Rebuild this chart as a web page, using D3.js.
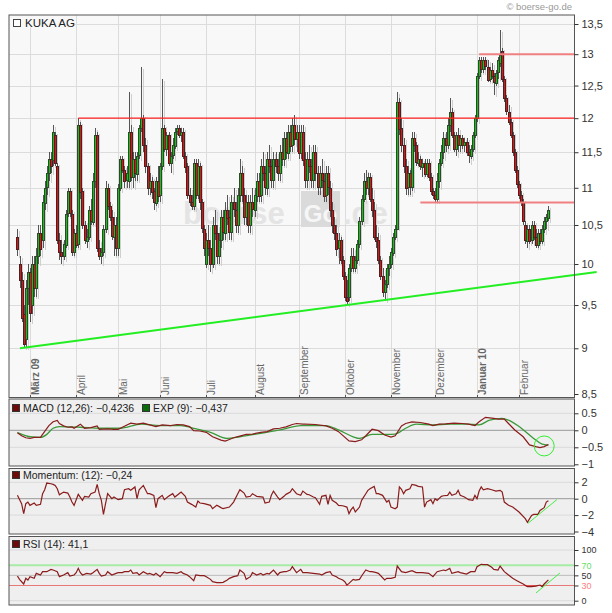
<!DOCTYPE html>
<html><head><meta charset="utf-8">
<script src="https://cdn.jsdelivr.net/npm/d3@7"></script>
<style>body{margin:0;background:#fff}svg{display:block;font-family:"Liberation Sans",Arial,sans-serif}</style>
</head><body><svg id="c" width="612" height="613"></svg>
<script>
const title = "KUKA AG";
const copyright = "© boerse-go.de";
const monthLabels = ["März 09","April","Mai","Juni","Juli","August","September","Oktober","November","Dezember","Januar 10","Februar"];
const monthIdx = [6,28,48,68,90,113,134,156,178,199,219,239];
const monthBold = [1,0,0,0,0,0,0,0,0,0,1,0];
const priceTicks = [8.5,9,9.5,10,10.5,11,11.5,12,12.5,13,13.5];
const macdTicks = [0.5,0,-0.5,-1];
const momTicks = [2,0,-2,-4];
const rsiTicks = [100,70,50,30,0];

const open = [10.35,10.0,9.8,9.4,9.1,9.7,9.9,9.5,10.0,9.7,
10.1,10.4,10.3,10.8,11.0,11.2,11.4,11.4,11.75,11.3,
10.3,10.15,10.1,10.25,10.65,10.95,10.65,10.15,10.4,10.25,
11.9,10.95,10.5,10.3,10.35,10.7,10.55,11.1,11.75,10.2,
10.1,10.15,10.45,11.0,10.75,10.6,10.35,10.5,10.2,11.0,
11.4,11.25,11.1,11.1,11.8,11.15,11.4,11.2,11.45,11.85,
12.0,11.6,11.3,11.0,11.1,10.95,10.8,11.1,10.9,11.3,
11.85,11.55,11.75,11.35,11.45,11.6,11.8,11.85,11.75,11.8,
11.45,11.3,10.9,10.8,10.75,11.35,10.9,11.3,10.8,10.45,
10.0,10.3,10.2,10.0,10.5,10.4,10.1,10.3,10.6,10.4,
10.7,10.6,10.4,10.8,10.7,10.5,10.9,11.2,10.9,10.6,
10.8,10.5,10.8,10.7,10.9,11.1,10.9,11.3,11.2,11.0,
11.4,11.3,11.1,11.4,11.3,11.2,11.5,11.4,11.7,11.5,
11.8,11.6,11.9,11.7,11.8,11.5,11.8,11.4,11.1,11.4,
11.3,11.1,11.5,11.2,11.0,11.2,11.1,10.9,11.2,11.0,
10.7,10.5,10.4,10.2,10.3,10.05,9.85,9.6,9.6,9.95,
10.1,9.95,10.05,10.25,10.55,10.85,11.1,11.0,11.15,10.85,
10.7,10.35,10.3,10.05,9.85,9.65,9.75,9.95,10.0,10.15,
10.35,10.45,12.25,11.85,11.6,11.3,11.0,11.2,11.0,11.7,
11.6,11.35,11.4,11.3,11.35,11.2,11.35,11.15,10.95,10.9,
10.85,11.1,11.35,11.5,11.7,11.6,11.9,12.1,11.75,11.55,
11.75,11.6,11.7,11.6,11.65,11.5,11.45,11.55,11.75,12.0,
12.65,12.9,12.75,12.9,12.8,12.6,12.75,12.65,12.55,12.7,
12.85,13.05,12.6,12.3,12.1,11.95,11.75,11.5,11.25,11.05,
10.9,10.8,10.5,10.3,10.45,10.3,10.5,10.35,10.25,10.4,
10.3,10.45,10.55,10.6];
const high = [10.45,10.1,9.9,9.5,9.8,10.0,9.95,10.1,10.1,10.2,
10.5,10.5,10.9,11.1,11.3,11.5,11.5,11.9,11.8,11.35,
10.4,10.3,10.3,10.7,11.0,11.0,10.7,10.45,10.5,12.0,
11.95,11.0,10.55,10.45,10.75,10.85,11.2,11.85,11.8,10.3,
10.2,10.5,11.1,11.05,10.8,10.7,10.6,10.6,11.05,11.45,
11.45,11.3,11.3,12.4,11.9,11.5,11.5,11.5,11.9,12.8,
12.05,11.7,11.35,11.2,11.15,11.0,11.15,11.3,11.35,12.6,
11.9,11.8,11.8,11.5,11.7,11.85,11.9,11.9,11.85,11.85,
11.5,11.35,11.0,10.9,11.4,11.4,11.4,11.35,10.85,10.5,
10.4,10.5,10.3,10.6,10.7,10.5,10.4,10.7,10.7,10.8,
10.9,10.7,10.9,11.0,10.8,11.0,11.4,11.3,11.0,10.9,
10.9,10.9,11.0,11.0,11.2,11.2,11.4,11.5,11.3,11.5,
11.6,11.4,11.5,11.5,11.4,11.6,11.7,11.8,11.8,11.9,
11.9,12.0,12.05,11.9,11.9,11.9,11.9,11.5,11.5,11.6,
11.4,11.6,11.6,11.3,11.3,11.4,11.2,11.3,11.3,11.1,
10.8,10.6,10.5,10.4,10.35,10.1,9.9,9.8,10.0,10.2,
10.2,10.1,10.3,10.6,10.9,11.2,11.25,11.2,11.2,11.0,
10.8,10.5,10.4,10.1,9.95,9.8,10.0,10.1,10.2,10.4,
10.5,12.4,12.3,12.0,11.7,11.4,11.3,11.25,11.8,11.8,
11.65,11.5,11.45,11.4,11.4,11.4,11.4,11.2,11.0,11.0,
11.2,11.4,11.6,11.8,11.8,12.0,12.3,12.15,11.8,11.8,
11.85,11.75,11.75,11.7,11.7,11.6,11.6,11.8,12.05,12.7,
12.95,12.95,12.95,12.95,12.9,12.8,12.85,12.7,12.75,12.95,
13.4,13.1,12.65,12.35,12.2,12.0,11.8,11.55,11.3,11.1,
10.95,10.85,10.55,10.5,10.5,10.55,10.55,10.45,10.45,10.45,
10.5,10.6,10.65,10.75];
const low = [10.1,9.7,9.3,9.0,9.0,9.5,9.3,9.4,9.6,9.6,
10.0,10.1,10.2,10.7,10.9,11.1,11.2,11.3,11.3,10.25,
10.05,10.0,10.05,10.2,10.6,10.6,10.1,10.1,10.2,10.2,
10.85,10.45,10.25,10.2,10.3,10.5,10.5,11.0,10.15,10.05,
10.0,10.1,10.4,10.7,10.55,10.3,10.1,10.1,10.1,10.95,
11.2,11.0,11.0,11.0,11.1,11.0,11.1,11.1,11.4,11.8,
11.5,11.2,10.9,10.9,10.85,10.7,10.75,10.8,10.8,11.25,
11.5,11.45,11.3,11.2,11.4,11.55,11.75,11.7,11.65,11.4,
11.2,10.85,10.75,10.7,10.7,10.85,10.85,10.7,10.4,10.1,
9.95,10.1,9.9,9.95,10.3,10.0,10.0,10.2,10.3,10.3,
10.5,10.3,10.3,10.6,10.4,10.4,10.8,10.8,10.5,10.5,
10.4,10.4,10.6,10.6,10.8,10.8,10.8,11.1,10.9,10.9,
11.2,11.0,11.0,11.2,11.1,11.1,11.3,11.3,11.4,11.4,
11.5,11.5,11.6,11.5,11.4,11.4,11.3,11.0,11.0,11.2,
11.0,11.0,11.1,10.9,10.9,11.0,10.8,10.8,10.9,10.6,
10.4,10.3,10.1,10.0,10.0,9.8,9.55,9.5,9.55,9.9,
9.9,9.9,10.0,10.2,10.5,10.8,10.9,10.9,10.8,10.6,
10.3,10.2,10.0,9.8,9.6,9.55,9.7,9.85,9.95,10.1,
10.3,10.45,11.75,11.5,11.2,10.9,10.9,10.9,10.95,11.5,
11.3,11.3,11.25,11.15,11.15,11.15,11.1,10.9,10.85,10.8,
10.8,11.0,11.3,11.4,11.5,11.55,11.8,11.7,11.5,11.45,
11.5,11.5,11.55,11.5,11.45,11.35,11.4,11.5,11.7,11.95,
12.6,12.7,12.7,12.75,12.55,12.55,12.6,12.35,12.5,12.6,
12.8,12.55,12.25,12.05,11.9,11.7,11.45,11.2,11.0,10.85,
10.75,10.5,10.25,10.2,10.25,10.25,10.3,10.2,10.2,10.25,
10.25,10.4,10.45,10.55];
const close = [10.2,9.8,9.35,9.05,9.7,9.9,9.4,10.0,9.7,10.1,
10.4,10.2,10.8,11.0,11.2,11.4,11.3,11.8,11.35,10.3,
10.15,10.1,10.25,10.65,10.95,10.65,10.15,10.4,10.25,11.9,
10.95,10.5,10.3,10.35,10.7,10.55,11.1,11.75,10.2,10.1,
10.15,10.45,11.0,10.75,10.6,10.35,10.5,10.2,11.0,11.4,
11.25,11.1,11.2,11.8,11.15,11.4,11.2,11.45,11.85,12.0,
11.6,11.3,11.0,11.1,10.95,10.8,11.1,10.9,11.3,11.85,
11.55,11.75,11.35,11.45,11.6,11.8,11.85,11.75,11.8,11.45,
11.3,10.9,10.8,10.75,11.35,10.9,11.3,10.8,10.45,10.2,
10.3,10.2,10.0,10.5,10.4,10.1,10.3,10.6,10.4,10.7,
10.6,10.4,10.8,10.7,10.5,10.9,11.2,10.9,10.6,10.8,
10.5,10.8,10.7,10.9,11.1,10.9,11.3,11.2,11.0,11.4,
11.3,11.1,11.4,11.3,11.2,11.5,11.4,11.7,11.5,11.8,
11.6,11.9,11.7,11.8,11.5,11.8,11.4,11.1,11.4,11.3,
11.1,11.5,11.2,11.0,11.2,11.1,10.9,11.2,11.0,10.7,
10.5,10.4,10.2,10.3,10.05,9.85,9.6,9.55,9.95,10.1,
9.95,10.05,10.25,10.55,10.85,11.1,11.0,11.15,10.85,10.7,
10.35,10.3,10.05,9.85,9.65,9.75,9.95,10.0,10.15,10.35,
10.45,12.25,11.85,11.6,11.3,11.0,11.2,11.0,11.7,11.6,
11.35,11.4,11.3,11.35,11.2,11.35,11.15,10.95,10.9,10.85,
11.1,11.35,11.5,11.7,11.6,11.9,12.1,11.75,11.55,11.75,
11.6,11.7,11.6,11.65,11.5,11.45,11.55,11.75,12.0,12.65,
12.9,12.75,12.9,12.8,12.6,12.75,12.65,12.55,12.7,12.9,
12.98,12.6,12.3,12.1,11.95,11.75,11.5,11.25,11.05,10.9,
10.8,10.55,10.3,10.45,10.3,10.5,10.35,10.25,10.4,10.3,
10.45,10.55,10.6,10.7];

const lineStart = [29,220,192];
const lineValue = [12,13,10.8];
const lineColor = ["#ff2020","#f08080","#f08080"];
const trendIdx = [1.2,276];
const trendVal = [9.0,9.9];

const macdIdx = [0,2,4,6,8,11,12,15,17,19,20,22,24,26,27,30,32,35,38,39,43,46,48,50,54,57,60,63,66,69,73,76,79,82,84,87,90,93,97,99,101,103,106,109,112,116,119,122,125,128,131,133,136,137,142,147,150,153,158,161,164,166,169,172,175,178,180,183,185,188,192,196,198,201,204,208,212,215,218,220,223,227,229,232,234,237,241,244,247,249,251,253];
const macdVal = [-0.07,-0.16,-0.22,-0.24,-0.21,-0.21,-0.12,0.14,0.25,0.29,0.20,0.13,0.09,0.10,0.06,0.18,0.06,0.08,0.13,0.03,0.04,0.03,0.03,0.09,0.21,0.18,0.21,0.16,0.11,0.16,0.14,0.17,0.16,0.11,-0.01,-0.02,-0.06,-0.19,-0.29,-0.32,-0.27,-0.22,-0.17,-0.12,-0.11,-0.06,-0.04,0.04,0.06,0.10,0.17,0.20,0.18,0.18,0.17,0.13,0.06,-0.04,-0.31,-0.33,-0.28,-0.16,0.03,-0.01,-0.14,-0.20,-0.16,0.13,0.20,0.25,0.23,0.18,0.14,0.18,0.19,0.21,0.20,0.18,0.14,0.25,0.38,0.35,0.33,0.33,0.20,0.01,-0.19,-0.43,-0.48,-0.51,-0.48,-0.42];
const expIdx = [0,6,11,14,17,20,30,39,49,59,68,78,84,92,100,106,116,125,135,147,153,160,163,169,176,180,185,190,198,206,214,220,225,231,234,239,246,250,253];
const expVal = [-0.07,-0.19,-0.21,-0.12,0.06,0.11,0.09,0.06,0.06,0.18,0.14,0.14,0.06,-0.06,-0.24,-0.19,-0.09,0.01,0.14,0.14,0.01,-0.19,-0.24,-0.12,-0.12,-0.11,0.06,0.18,0.16,0.18,0.18,0.16,0.30,0.35,0.30,0.11,-0.24,-0.41,-0.44];
const momIdx = [0,2,3,4,5,6,8,9,11,12,13,14,16,17,18,19,20,22,24,25,26,27,29,31,32,34,35,37,38,39,40,41,42,43,45,46,48,50,51,53,54,56,57,58,60,62,63,65,66,67,69,70,72,74,75,77,78,80,81,83,85,86,87,89,92,93,95,97,98,101,103,105,106,108,109,111,112,114,117,118,120,121,122,124,125,127,128,130,131,133,135,136,138,139,141,142,144,145,147,148,149,150,152,153,155,157,158,159,160,161,163,164,166,167,168,170,171,172,174,176,177,178,180,181,182,183,184,185,187,188,190,191,193,194,195,197,198,199,200,202,203,205,206,207,209,210,211,213,215,217,218,219,220,221,222,224,226,228,230,231,232,234,236,239,242,243,245,246,248,249,251,252,253];
const momVal = [0.41,-0.61,-1.82,-0.61,-0.41,-0.81,-0.53,-0.81,-0.69,0.61,1.09,1.91,1.82,1.75,1.62,1.22,0.48,0.81,0.69,0.2,-0.41,-0.81,0.53,-0.2,0.29,0.2,0.61,0.81,1.75,0.61,-0.2,-1.91,-0.61,0.61,0,0.2,-0.12,0,1.09,1.22,1.02,1.43,0,1.09,1.62,0.61,0.61,0.41,-1.09,0,0.41,-0.12,0.29,0.61,0.2,0.61,0.81,0.29,-0.41,-0.69,-1.02,-0.29,-0.53,-0.61,-0.81,-1.22,-0.81,-1.09,-1.22,-1.02,-0.41,0.61,1.09,0.69,0.2,0.29,0.61,0.29,0.2,-0.53,-0.41,0.41,0.93,0.2,-0.12,0.29,0.53,0.81,1.22,0.61,0.41,0.93,0.53,0.48,0.2,0.12,-0.69,0.29,0.41,-0.69,0.41,-0.2,-0.53,-0.81,-0.86,-1.02,-1.82,-1.34,-1.02,-1.62,-1.02,-0.2,0.61,1.02,1.22,1.5,0.61,0.61,0.41,-0.41,-0.2,-1.02,-1.22,-1.02,1.43,1.14,0.61,1.02,1.22,1.75,1.62,1.5,1.43,-1.02,-0.41,-0.12,-0.61,0,-0.2,0.29,0.36,0.41,0.81,0.41,0.61,1.02,0.41,0.2,-0.12,-0.2,0.41,0,0.93,1.43,1.09,1.22,1.09,0.93,1.02,0.81,-0.41,-0.81,-1.02,-1.62,-2.43,-2.88,-2.03,-1.91,-1.91,-1.43,-1.09,-0.41,-0.24];
const rsiIdx = [0,1,3,4,5,6,8,9,11,12,14,16,17,19,20,22,24,25,27,28,29,30,31,33,35,36,38,39,40,42,43,45,47,48,50,51,53,54,55,57,58,60,62,63,65,66,68,70,71,73,74,76,78,79,81,82,84,85,87,89,90,92,93,95,97,98,100,101,103,105,106,108,109,111,112,114,116,117,119,120,122,124,125,127,128,130,131,133,135,136,138,141,144,145,147,149,150,152,153,155,156,157,158,160,161,163,164,166,168,169,171,172,175,176,178,180,181,183,185,188,190,193,196,198,200,203,204,206,207,210,211,214,216,218,219,221,222,224,226,227,229,230,232,234,236,238,241,243,245,247,249,250,251,253];
const rsiVal = [48.7,42.1,32.9,44.1,40.8,47.4,44.1,53.9,50.7,57.2,57.2,61.8,60.5,57.2,47.4,50.7,55.3,48.7,50.7,55.3,63.8,55.3,50.7,53.9,52.6,55.3,61.8,53.9,48.7,50.7,57.2,50.7,53.9,55.3,55.3,57.2,57.2,60.5,53.9,55.3,50.7,57.2,52.6,53.9,50.7,53.9,47.4,57.2,55.3,55.3,55.3,53.9,57.2,53.9,50.7,47.4,39.5,50.7,49.3,49.3,47.4,42.1,37.5,35.5,35.5,36.2,40.8,44.1,47.4,49.3,60.5,53.9,42.1,47.4,55.3,50.7,53.9,50.7,53.9,52.6,60.5,50.7,55.3,57.2,57.2,60.5,67.1,55.3,61.8,55.3,55.3,53.9,52.6,50.7,55.3,57.2,50.7,47.4,44.1,40.8,37.5,30.9,34.2,42.1,40.8,42.1,48.7,60.5,57.2,57.2,55.3,53.9,40.8,44.1,44.1,46.1,68.4,57.2,55.3,59.2,55.3,55.3,53.9,47.4,57.2,60.5,59.2,63.8,53.9,57.2,55.3,52.6,57.2,57.2,67.1,71.7,71.1,71.1,65.8,61.8,60.5,68.4,57.2,50.7,44.1,39.5,32.9,27.6,27.6,28.9,30.9,27.6,32.9,41.1];

const svg = d3.select('#c');
const L = 9, R = 574.5;
const P = {main:[15,397.5], macd:[399,466], mom:[468.5,534], rsi:[536.5,605]};
const x = d3.scaleLinear().domain([6,239]).range([30,519]);
const y = d3.scaleLog().domain([8.5,13.5]).range([394,24]);
const yMacd = d3.scaleLinear().domain([-1,1]).range([464.3,396.3]);
const yMom = d3.scaleLinear().domain([-4,2]).range([531.5,482.3]);
const yRsi = d3.scaleLinear().domain([0,100]).range([600.7,550]);

const defs = svg.append('defs');
for (const [k,[t,b]] of Object.entries(P)) {
  defs.append('clipPath').attr('id','clip_'+k).append('rect').attr('x',L).attr('y',t).attr('width',R-L).attr('height',b-t);
}
svg.append('rect').attr('x',L).attr('y',P.main[0]).attr('width',R-L).attr('height',P.main[1]-P.main[0]).attr('fill','#f8f8f8');
for (const k of ['macd','mom','rsi']) svg.append('rect').attr('x',L).attr('y',P[k][0]).attr('width',R-L).attr('height',P[k][1]-P[k][0]).attr('fill','#efefef');

const grid = svg.append('g').attr('shape-rendering','crispEdges');
grid.selectAll('line.h').data(priceTicks.slice(1)).join('line').attr('x1',L).attr('x2',R).attr('y1',d=>Math.round(y(d))+0.5).attr('y2',d=>Math.round(y(d))+0.5).attr('stroke','#dcdcdc');
grid.selectAll('line.v').data(monthIdx).join('line').attr('x1',d=>Math.round(x(d))+0.5).attr('x2',d=>Math.round(x(d))+0.5).attr('y1',P.main[0]).attr('y2',P.main[1]).attr('stroke','#dcdcdc');
grid.selectAll('line.t').data(monthIdx).join('line').attr('x1',d=>Math.round(x(d))+0.5).attr('x2',d=>Math.round(x(d))+0.5).attr('y1',P.main[1]-3).attr('y2',P.main[1]).attr('stroke','#555');

// watermark
const wm = svg.append('g');
wm.append('text').attr('x',183).attr('y',224).attr('font-size',31).attr('font-weight','bold').attr('fill','#e4e4e4').text('boerse');
wm.append('rect').attr('x',301).attr('y',191).attr('width',39).attr('height',36).attr('fill','#dadada');
wm.append('text').attr('x',320.5).attr('y',222).attr('text-anchor','middle').attr('font-size',24).attr('font-weight','bold').attr('fill','#f6f6f6').text('Go');
wm.append('text').attr('x',343).attr('y',224).attr('font-size',31).attr('font-weight','bold').attr('fill','#e4e4e4').text('.de');

svg.append('g').selectAll('text').data(monthIdx).join('text')
  .attr('transform',d=>`translate(${Math.round(x(d))+9},395) rotate(-90)`)
  .attr('font-size',10).attr('fill','#666').attr('font-weight',(d,i)=>monthBold[i]?'bold':'normal')
  .text((d,i)=>monthLabels[i]);

// candles
const candles = d3.range(close.length).map(i=>({i,o:open[i],h:high[i],l:low[i],c:close[i]}));
const gc = svg.append('g').attr('clip-path','url(#clip_main)').attr('shape-rendering','crispEdges');
gc.selectAll('line.sh').data(candles).join('line').attr('x1',d=>Math.round(x(d.i))+2.5).attr('x2',d=>Math.round(x(d.i))+2.5).attr('y1',d=>y(d.h)+2).attr('y2',d=>y(d.l)+2).attr('stroke','#cfcfcf');
gc.selectAll('line.w').data(candles).join('line').attr('x1',d=>Math.round(x(d.i))+0.5).attr('x2',d=>Math.round(x(d.i))+0.5).attr('y1',d=>y(d.h)).attr('y2',d=>y(d.l)).attr('stroke','#555');
gc.selectAll('rect.b').data(candles).join('rect').attr('x',d=>Math.round(x(d.i))-0.5).attr('width',2)
  .attr('y',d=>Math.round(y(Math.max(d.o,d.c)))+0.5).attr('height',d=>Math.max(1,Math.round(Math.abs(y(d.o)-y(d.c)))))
  .attr('fill',d=>d.c>=d.o?'#1cbc1c':'#d81818').attr('stroke',d=>d.c>=d.o?'#2a4a2a':'#4a2020');

const gl = svg.append('g').attr('clip-path','url(#clip_main)');
gl.selectAll('line').data(lineStart).join('line').attr('x1',d=>x(d)).attr('x2',R).attr('y1',(d,i)=>y(lineValue[i])).attr('y2',(d,i)=>y(lineValue[i]))
  .attr('stroke',(d,i)=>lineColor[i]).attr('stroke-width',(d,i)=>i===0?1.3:2);
svg.append('line').attr('x1',x(trendIdx[0])).attr('x2',x(trendIdx[1])).attr('y1',y(trendVal[0])).attr('y2',y(trendVal[1])).attr('stroke','#22ee22').attr('stroke-width',2);

svg.append('rect').attr('x',L+0.5).attr('y',P.main[0]+0.5).attr('width',63).attr('height',12).attr('fill','#f8f8f8');
svg.append('rect').attr('x',13.5).attr('y',19.5).attr('width',7).attr('height',7).attr('fill','#fff').attr('stroke','#444');
svg.append('text').attr('x',25).attr('y',26.5).attr('font-size',11.5).attr('fill','#222').text(title);
svg.append('text').attr('x',572).attr('y',10).attr('text-anchor','end').attr('font-size',9.5).attr('fill','#999').text(copyright);

function hline(yy,col,w){svg.append('line').attr('x1',L).attr('x2',R).attr('y1',yy).attr('y2',yy).attr('stroke',col).attr('stroke-width',w||1);}
hline(yMacd(0.5),'#dadada');hline(yMacd(-0.5),'#dadada');hline(yMacd(0),'#999');
hline(yMom(2),'#dadada');hline(yMom(-2),'#dadada');hline(yMom(0),'#999');
hline(yRsi(100),'#dadada');hline(yRsi(0),'#dadada');hline(yRsi(50),'#bbb');
hline(yRsi(70),'#a6eca6',2);hline(yRsi(30),'#e87878',1);

const line = (sy)=>d3.line().x(d=>x(d[0])).y(d=>sy(d[1]));
svg.append('path').datum(d3.zip(expIdx,expVal)).attr('d',line(yMacd).curve(d3.curveMonotoneX)).attr('fill','none').attr('stroke','#3a9a3a').attr('stroke-width',1.3).attr('clip-path','url(#clip_macd)');
svg.append('path').datum(d3.zip(macdIdx,macdVal)).attr('d',line(yMacd)).attr('fill','none').attr('stroke','#8a1c1c').attr('stroke-width',1.2).attr('clip-path','url(#clip_macd)');
svg.append('path').datum(d3.zip(momIdx,momVal)).attr('d',line(yMom)).attr('fill','none').attr('stroke','#8a1c1c').attr('stroke-width',1.2).attr('clip-path','url(#clip_mom)');
const rsiData = d3.zip(rsiIdx,rsiVal);
svg.append('path').datum(rsiData).attr('d',d3.area().x(d=>x(d[0])).y0(yRsi(30)).y1(d=>yRsi(Math.min(30,d[1])))).attr('fill','#e03030').attr('clip-path','url(#clip_rsi)');
svg.append('path').datum(rsiData).attr('d',line(yRsi)).attr('fill','none').attr('stroke','#8a1c1c').attr('stroke-width',1.2).attr('clip-path','url(#clip_rsi)');

svg.append('circle').attr('cx',x(251)).attr('cy',yMacd(-0.46)).attr('r',10).attr('fill','none').attr('stroke','#33ee33');
svg.append('line').attr('x1',x(243.3)).attr('y1',yMom(-3.0)).attr('x2',x(257.1)).attr('y2',yMom(-0.1)).attr('stroke','#44ee44');
svg.append('line').attr('x1',x(247.1)).attr('y1',yRsi(15.2)).attr('x2',x(258.5)).attr('y2',yRsi(54.6)).attr('stroke','#44ee44');

for (const k of Object.keys(P)) svg.append('rect').attr('x',L).attr('y',P[k][0]).attr('width',R-L).attr('height',P[k][1]-P[k][0]).attr('fill','none').attr('stroke','#555');

function legend(xx,yy,col,txt){svg.append('rect').attr('x',xx+0.5).attr('y',yy-7.5).attr('width',7).attr('height',7).attr('fill',col).attr('stroke','#333');
 svg.append('text').attr('x',xx+11).attr('y',yy).attr('font-size',10.5).attr('fill','#222').text(txt);}
legend(12,412,'#6e0a0a','MACD (12,26): −0,4236');
legend(142,412,'#0a6e0a','EXP (9): −0,437');
legend(12,479,'#6e0a0a','Momentum: (12): −0,24');
legend(12,548,'#6e0a0a','RSI (14): 41,1');

function axis(sc,ticks,fmt,colors,fs){
  const g = svg.append('g').attr('transform',`translate(${R},0)`).call(d3.axisRight(sc).tickValues(ticks).tickFormat(fmt).tickSize(4).tickPadding(3));
  g.select('.domain').remove();
  g.selectAll('text').attr('font-size',fs||11).attr('font-family','"Liberation Sans",Arial,sans-serif').attr('fill',(d,i)=>colors?colors[i]:'#333');
  g.selectAll('line').attr('stroke','#333');
}
axis(y,priceTicks,d=>String(d).replace('.',','));
axis(yMacd,macdTicks,d=>d<0?'−'+String(-d):String(d));
axis(yMom,momTicks,d=>d<0?'−'+String(-d):String(d));
axis(yRsi,rsiTicks,d=>String(d),['#333','#66dd66','#333','#ff8080','#333'],9);
</script></body></html>
